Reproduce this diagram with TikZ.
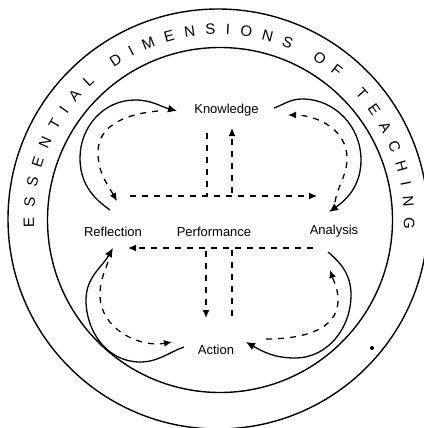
\documentclass[tikz,border=0pt]{standalone}
\usepackage{fontspec}
\setmainfont{Liberation Sans}
\usetikzlibrary{arrows.meta,decorations.text}
\newcommand\ringfont{\fontsize{15}{15}\selectfont}
\tikzset{
  lbl/.style={font=\fontsize{13}{15}\selectfont, inner sep=1pt},
  ringline/.style={line width=1.4pt},
  solidarrow/.style={line width=1.3pt, -{Latex[length=9pt,width=8pt]}},
  dasharrow/.style={line width=1.3pt, dash pattern=on 6pt off 6pt, -{Latex[length=8pt,width=7pt]}},
  dashline/.style={line width=1.3pt, dash pattern=on 6pt off 6pt},
}
\begin{document}
\begin{tikzpicture}[x=1pt,y=1pt]
\useasboundingbox (0,0) rectangle (423,-428);
% rings
\draw[ringline] (218,-219) circle[radius=210];
\draw[ringline] (220,-220) circle[radius=172.5];
\path[shift={(219,-219.5)}, decorate, decoration={text along path,
  text={|\ringfont|ESSENTIAL DIMENSIONS OF TEACHING}, text align={fit to path}}]
  (182.5:185) arc[start angle=182.5, end angle=-3, radius=185];
% labels
\node[lbl] (know) at (226.5,-110) {Knowledge};
\node[lbl] (refl) at (113,-232) {Reflection};
\node[lbl] (perf) at (214,-232) {Performance};
\node[lbl] (anal) at (334,-231) {Analysis};
\node[lbl] (act) at (216,-350) {Action};
% coordinates
\coordinate (tlS) at (110,-210);
\coordinate (tlE) at (177,-111);
\coordinate (tldS) at (158,-111);
\coordinate (tldE) at (117,-201);
\coordinate (trS) at (274,-108);
\coordinate (trE) at (329,-212);
\coordinate (trdS) at (335,-202);
\coordinate (trdE) at (288,-115);
\coordinate (blS) at (184,-347);
\coordinate (blE) at (113,-248);
\coordinate (bldS) at (108,-262);
\coordinate (bldE) at (172,-342);
\coordinate (brS) at (328,-252);
\coordinate (brE) at (246,-342);
\coordinate (brdS) at (266,-339);
\coordinate (brdE) at (330,-270);
\coordinate (uhL) at (130,-196);
\coordinate (uhR) at (317,-196);
\coordinate (uvT) at (207,-133);
\coordinate (uvC) at (207,-196);
\coordinate (upB) at (232,-193);
\coordinate (upT) at (232,-128);
\coordinate (lhR) at (313,-248);
\coordinate (lhL) at (128,-248);
\coordinate (lvC) at (232,-248);
\coordinate (lvB) at (232,-316);
\coordinate (dnT) at (206,-251);
\coordinate (dnB) at (206,-318);
% top-left loop
\draw[solidarrow] (tlS) to[out=145,in=270] (80,-158) to[out=90,in=180] (135,-100) to[out=0,in=165] (tlE);
\draw[dasharrow] (tldS) to[out=185,in=90] (98,-152) to[out=270,in=120] (tldE);
% top-right loop
\draw[solidarrow] (trS) to[out=20,in=180] (302,-99) to[out=0,in=90] (361,-160) to[out=270,in=35] (trE);
\draw[dasharrow] (trdS) to[out=80,in=270] (347,-158) to[out=90,in=0] (trdE);
% bottom-left loop
\draw[solidarrow] (blS) to[out=200,in=0] (140,-362) to[out=180,in=270] (86,-300) to[out=90,in=240] (blE);
\draw[dasharrow] (bldS) to[out=250,in=90] (100,-295) to[out=270,in=190] (bldE);
% bottom-right loop
\draw[solidarrow] (brS) to[out=-40,in=90] (351,-295) to[out=270,in=0] (295,-358) to[out=180,in=-30] (brE);
\draw[dasharrow] (brdS) to[out=0,in=270] (338,-300) to[out=90,in=-72] (brdE);
% central dashed lines
\draw[dashline] (uvT) -- (uvC);
\draw[dasharrow] (uhL) -- (uhR);
\draw[dasharrow] (upB) -- (upT);
\draw[dasharrow] (lhR) -- (lhL);
\draw[dashline] (lvB) -- (lvC);
\draw[dasharrow] (dnT) -- (dnB);
% stray dot
\fill (372,-348) circle[radius=2];
\end{tikzpicture}
\end{document}
